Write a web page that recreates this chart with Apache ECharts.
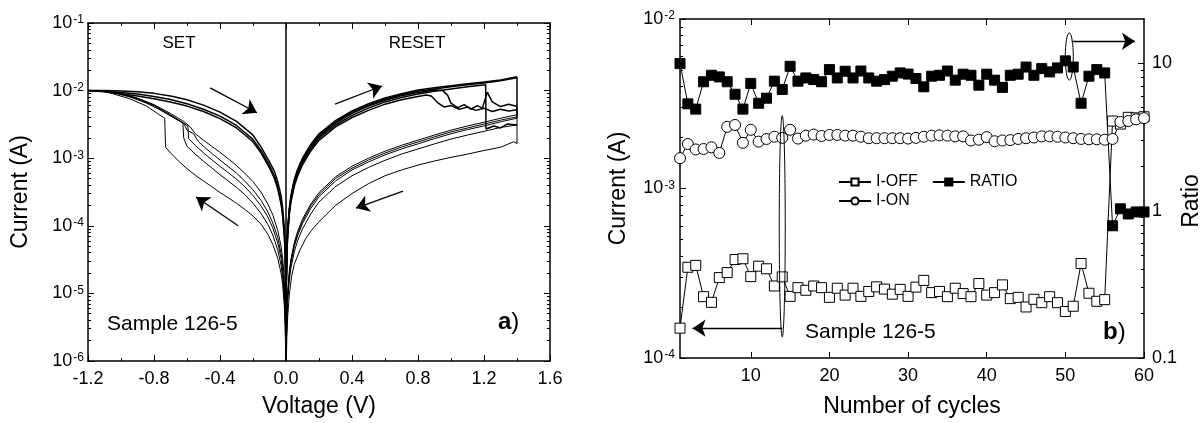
<!DOCTYPE html>
<html>
<head>
<meta charset="utf-8">
<title>Sample 126-5</title>
<script src="https://cdn.jsdelivr.net/npm/echarts@6/dist/echarts.min.js"></script>
<style>
  html, body { margin: 0; padding: 0; background: #fff; }
  #chart { width: 1201px; height: 423px; }
</style>
</head>
<body>
<div id="chart"></div>
<script>
// 字体
const FONT = '"Liberation Sans", Arial, Helvetica, sans-serif';

// ---------- 左图 (a) 刻度 ----------
const voltMin = -1.2;
const voltMax = 1.6;
const voltStep = 0.4;
const ivDecades = [1e-6, 1e-5, 1e-4, 1e-3, 1e-2, 1e-1];

// ---------- 右图 (b) 刻度 ----------
const cycleTicks = [10, 20, 30, 40, 50, 60];
const currDecades = [1e-4, 1e-3, 1e-2];
const ratioTicks = [0.1, 1, 10];
const ratioMax = 20;

// ---------- 左图数据：RESET 侧 (0 -> 1.4 V) ----------
const resetOn1 = [[0,1e-6],[0.0003,2.4e-6],[0.001,8e-6],[0.002,1.7e-5],[0.005,4.4e-5],[0.01,9e-5],[0.02,1.8e-4],[0.03,2.8e-4],[0.05,4.8e-4],[0.07,6.8e-4],[0.1,1.0e-3],[0.15,1.6e-3],[0.2,2.3e-3],[0.3,3.6e-3],[0.4,5.0e-3],[0.5,6.4e-3],[0.6,7.8e-3],[0.7,9.0e-3],[0.8,1.02e-2],[0.9,1.1e-2],[1.0,1.18e-2],[1.1,1.26e-2],[1.2,1.34e-2],[1.3,1.44e-2],[1.4,1.6e-2]];
const resetOn2 = [[0,1e-6],[0.0003,2.2e-6],[0.001,7.4e-6],[0.002,1.55e-5],[0.005,4e-5],[0.01,8.2e-5],[0.02,1.65e-4],[0.03,2.55e-4],[0.05,4.4e-4],[0.07,6.2e-4],[0.1,9.2e-4],[0.15,1.47e-3],[0.2,2.1e-3],[0.3,3.3e-3],[0.4,4.6e-3],[0.5,5.9e-3],[0.6,7.2e-3],[0.7,8.4e-3],[0.8,9.4e-3],[0.9,1.02e-2],[0.95,1.0e-2],[0.98,8.5e-3],[1.0,6.5e-3],[1.04,5.6e-3],[1.08,6.2e-3],[1.12,5.3e-3],[1.16,6.0e-3],[1.19,5.5e-3],[1.22,9.5e-3],[1.25,6.8e-3],[1.3,5.8e-3],[1.35,6.3e-3],[1.4,5.8e-3]];
const resetOn3 = [[0,1e-6],[0.0003,2e-6],[0.001,6.8e-6],[0.002,1.45e-5],[0.005,3.7e-5],[0.01,7.6e-5],[0.02,1.55e-4],[0.03,2.4e-4],[0.05,4.1e-4],[0.07,5.8e-4],[0.1,8.6e-4],[0.15,1.38e-3],[0.2,1.98e-3],[0.3,3.1e-3],[0.4,4.3e-3],[0.5,5.5e-3],[0.6,6.8e-3],[0.7,7.9e-3],[0.8,8.9e-3],[0.9,9.8e-3],[1.0,1.06e-2],[1.1,1.14e-2],[1.21,1.22e-2],[1.212,2.7e-3],[1.26,3.0e-3],[1.3,2.8e-3],[1.34,3.2e-3],[1.4,3.1e-3]];
const resetOn4 = [[0,1e-6],[0.0003,1.9e-6],[0.001,6.3e-6],[0.002,1.35e-5],[0.005,3.5e-5],[0.01,7.1e-5],[0.02,1.45e-4],[0.03,2.25e-4],[0.05,3.85e-4],[0.07,5.4e-4],[0.1,8.0e-4],[0.15,1.28e-3],[0.2,1.84e-3],[0.3,2.9e-3],[0.4,4.0e-3],[0.5,5.1e-3],[0.6,6.3e-3],[0.7,7.3e-3],[0.8,8.2e-3],[0.85,8.6e-3],[0.88,8.3e-3],[0.92,6.6e-3],[0.96,5.7e-3],[1.0,6.0e-3],[1.05,5.3e-3],[1.1,5.7e-3],[1.15,5.1e-3],[1.2,5.5e-3],[1.25,4.9e-3],[1.3,5.3e-3],[1.35,5.0e-3],[1.4,5.2e-3]];
const resetOn5 = [[0,1e-6],[0.0003,2.3e-6],[0.001,7.7e-6],[0.002,1.6e-5],[0.005,4.2e-5],[0.01,8.6e-5],[0.02,1.72e-4],[0.03,2.7e-4],[0.05,4.6e-4],[0.07,6.5e-4],[0.1,9.6e-4],[0.15,1.53e-3],[0.2,2.2e-3],[0.3,3.45e-3],[0.4,4.8e-3],[0.5,6.1e-3],[0.6,7.5e-3],[0.7,8.7e-3],[0.8,9.8e-3],[0.9,1.06e-2],[1.0,1.14e-2],[1.1,1.22e-2],[1.2,1.3e-2],[1.3,1.4e-2],[1.4,1.55e-2]];

// RESET 侧返回 (1.4 -> 0 V)
const resetOff1 = [[1.4,4.4e-3],[1.3,3.9e-3],[1.2,3.4e-3],[1.1,3.0e-3],[1.0,2.6e-3],[0.9,2.2e-3],[0.8,1.85e-3],[0.7,1.55e-3],[0.6,1.27e-3],[0.5,1.0e-3],[0.4,7.6e-4],[0.3,5.3e-4],[0.2,3.1e-4],[0.15,2.1e-4],[0.1,1.25e-4],[0.07,8.2e-5],[0.05,5.6e-5],[0.03,3.2e-5],[0.02,2.1e-5],[0.01,1.0e-5],[0.005,5e-6],[0.002,2e-6],[0.0008,1e-6]];
const resetOff2 = [[1.4,3.9e-3],[1.3,3.45e-3],[1.2,3.0e-3],[1.1,2.65e-3],[1.0,2.3e-3],[0.9,1.95e-3],[0.8,1.63e-3],[0.7,1.37e-3],[0.6,1.12e-3],[0.5,8.8e-4],[0.4,6.7e-4],[0.3,4.6e-4],[0.2,2.7e-4],[0.15,1.8e-4],[0.1,1.08e-4],[0.07,7.1e-5],[0.05,4.9e-5],[0.03,2.8e-5],[0.02,1.85e-5],[0.01,9e-6],[0.005,4.4e-6],[0.002,1.8e-6],[0.0008,1e-6]];
const resetOff3 = [[1.4,3.2e-3],[1.3,2.85e-3],[1.2,2.5e-3],[1.1,2.2e-3],[1.0,1.92e-3],[0.9,1.63e-3],[0.8,1.37e-3],[0.7,1.15e-3],[0.6,9.3e-4],[0.5,7.3e-4],[0.4,5.5e-4],[0.3,3.8e-4],[0.2,2.25e-4],[0.15,1.5e-4],[0.1,9e-5],[0.07,6e-5],[0.05,4.1e-5],[0.03,2.4e-5],[0.02,1.55e-5],[0.01,7.6e-6],[0.005,3.7e-6],[0.002,1.5e-6],[0.0008,1e-6]];
const resetOff4 = [[1.4,1.65e-3],[1.38,1.75e-3],[1.3,1.45e-3],[1.2,1.3e-3],[1.1,1.15e-3],[1.0,1.03e-3],[0.9,9.1e-4],[0.8,7.9e-4],[0.7,6.7e-4],[0.6,5.5e-4],[0.5,4.2e-4],[0.4,3.0e-4],[0.3,2.0e-4],[0.2,1.15e-4],[0.15,8.3e-5],[0.12,6.5e-5],[0.085,4.4e-5],[0.05,2.7e-5],[0.034,1.8e-5],[0.02,9.5e-6],[0.01,4.5e-6],[0.005,2.2e-6],[0.002,1e-6]];
const resetOff5 = [[1.4,4.1e-3],[1.3,3.65e-3],[1.2,3.2e-3],[1.1,2.8e-3],[1.0,2.45e-3],[0.9,2.07e-3],[0.8,1.74e-3],[0.7,1.46e-3],[0.6,1.19e-3],[0.5,9.4e-4],[0.4,7.1e-4],[0.3,5.0e-4],[0.2,2.9e-4],[0.15,1.97e-4],[0.1,1.17e-4],[0.07,7.7e-5],[0.05,5.3e-5],[0.03,3.0e-5],[0.02,2.0e-5],[0.01,9.5e-6],[0.005,4.7e-6],[0.002,1.9e-6],[0.0008,1e-6]];

// ---------- 左图数据：SET 侧 (0 -> -1.2 V) ----------
const setOff1 = [[0,1e-6],[-0.002,1.3e-6],[-0.005,3.3e-6],[-0.01,6.5e-6],[-0.02,1.35e-5],[-0.03,2.0e-5],[-0.05,3.3e-5],[-0.08,5.3e-5],[-0.11,7.5e-5],[-0.15,1.05e-4],[-0.2,1.4e-4],[-0.25,1.75e-4],[-0.3,2.15e-4],[-0.35,2.6e-4],[-0.4,3.1e-4],[-0.45,3.8e-4],[-0.5,4.6e-4],[-0.55,5.6e-4],[-0.6,7.0e-4],[-0.65,9.0e-4],[-0.7,1.2e-3],[-0.73,1.45e-3],[-0.735,3.9e-3],[-0.78,4.6e-3],[-0.85,6.0e-3],[-0.95,7.6e-3],[-1.05,9.0e-3],[-1.12,9.9e-3],[-1.2,1.0e-2]];
const setOff2 = [[0,1e-6],[-0.002,1.6e-6],[-0.005,4e-6],[-0.01,8e-6],[-0.02,1.7e-5],[-0.03,2.6e-5],[-0.05,4.4e-5],[-0.08,7.3e-5],[-0.11,1.05e-4],[-0.15,1.5e-4],[-0.2,2.15e-4],[-0.25,2.9e-4],[-0.3,3.7e-4],[-0.35,4.6e-4],[-0.4,5.7e-4],[-0.45,7.2e-4],[-0.5,9.0e-4],[-0.55,1.15e-3],[-0.6,1.5e-3],[-0.62,2.0e-3],[-0.625,3.3e-3],[-0.66,3.7e-3],[-0.72,4.5e-3],[-0.8,6.0e-3],[-0.9,7.6e-3],[-1.0,8.9e-3],[-1.1,9.8e-3],[-1.2,1.0e-2]];
const setOff3 = [[0,1e-6],[-0.002,2e-6],[-0.005,5e-6],[-0.01,1.0e-5],[-0.02,2.1e-5],[-0.03,3.3e-5],[-0.05,5.6e-5],[-0.08,9.3e-5],[-0.11,1.35e-4],[-0.15,1.95e-4],[-0.2,2.8e-4],[-0.25,3.8e-4],[-0.3,4.9e-4],[-0.35,6.1e-4],[-0.4,7.6e-4],[-0.45,9.5e-4],[-0.5,1.2e-3],[-0.55,1.55e-3],[-0.59,1.95e-3],[-0.595,3.0e-3],[-0.63,3.4e-3],[-0.7,4.4e-3],[-0.8,6.1e-3],[-0.9,7.7e-3],[-1.0,9.0e-3],[-1.1,9.9e-3],[-1.2,1.0e-2]];
const setOff4 = [[0,1e-6],[-0.002,2.4e-6],[-0.005,6e-6],[-0.01,1.2e-5],[-0.02,2.5e-5],[-0.03,3.9e-5],[-0.05,6.7e-5],[-0.08,1.1e-4],[-0.11,1.6e-4],[-0.15,2.35e-4],[-0.2,3.4e-4],[-0.25,4.6e-4],[-0.3,6.0e-4],[-0.35,7.5e-4],[-0.4,9.4e-4],[-0.45,1.18e-3],[-0.5,1.5e-3],[-0.53,1.75e-3],[-0.56,2.3e-3],[-0.6,2.6e-3],[-0.62,3.3e-3],[-0.68,4.0e-3],[-0.75,5.0e-3],[-0.85,6.6e-3],[-0.95,8.1e-3],[-1.05,9.3e-3],[-1.15,9.95e-3],[-1.2,1.0e-2]];
const setOff5 = [[0,1e-6],[-0.001,1.6e-6],[-0.003,4.8e-6],[-0.006,9.5e-6],[-0.01,1.6e-5],[-0.02,3.3e-5],[-0.03,5e-5],[-0.05,8.5e-5],[-0.08,1.45e-4],[-0.11,2.1e-4],[-0.15,3.1e-4],[-0.2,4.5e-4],[-0.25,6.0e-4],[-0.3,7.8e-4],[-0.35,9.8e-4],[-0.4,1.22e-3],[-0.45,1.5e-3],[-0.5,1.85e-3],[-0.55,2.3e-3],[-0.58,2.9e-3],[-0.62,3.5e-3],[-0.7,4.6e-3],[-0.8,6.2e-3],[-0.9,7.7e-3],[-1.0,9.0e-3],[-1.1,9.9e-3],[-1.2,1.0e-2]];

// SET 侧返回 (-1.2 -> 0 V)
const setOn1 = [[-1.2,1.0e-2],[-1.1,1.0e-2],[-1.0,9.9e-3],[-0.9,9.6e-3],[-0.8,9.1e-3],[-0.7,8.3e-3],[-0.6,7.3e-3],[-0.5,6.1e-3],[-0.4,4.8e-3],[-0.3,3.5e-3],[-0.2,2.2e-3],[-0.15,1.45e-3],[-0.1,8.8e-4],[-0.07,6.4e-4],[-0.05,4.5e-4],[-0.03,2.8e-4],[-0.02,1.8e-4],[-0.01,9e-5],[-0.005,4.4e-5],[-0.002,1.7e-5],[-0.001,8e-6],[-0.0003,2.4e-6],[0,1e-6]];
const setOn2 = [[-1.2,1.0e-2],[-1.1,9.8e-3],[-1.0,9.4e-3],[-0.9,8.9e-3],[-0.8,8.2e-3],[-0.7,7.4e-3],[-0.6,6.4e-3],[-0.5,5.3e-3],[-0.4,4.2e-3],[-0.3,3.05e-3],[-0.2,1.9e-3],[-0.15,1.28e-3],[-0.1,7.8e-4],[-0.07,5.5e-4],[-0.05,3.8e-4],[-0.03,2.3e-4],[-0.02,1.5e-4],[-0.01,7.5e-5],[-0.005,3.7e-5],[-0.002,1.45e-5],[-0.001,7e-6],[-0.0003,2.1e-6],[0,1e-6]];
const setOn3 = [[-1.2,1.0e-2],[-1.1,9.6e-3],[-1.0,9.0e-3],[-0.9,8.3e-3],[-0.8,7.6e-3],[-0.7,6.8e-3],[-0.6,5.9e-3],[-0.5,4.9e-3],[-0.4,3.85e-3],[-0.3,2.8e-3],[-0.2,1.75e-3],[-0.15,1.18e-3],[-0.1,7.2e-4],[-0.07,5.0e-4],[-0.05,3.5e-4],[-0.03,2.1e-4],[-0.02,1.38e-4],[-0.01,6.9e-5],[-0.005,3.4e-5],[-0.002,1.35e-5],[-0.001,6.5e-6],[-0.0003,2e-6],[0,1e-6]];

// ---------- 右图数据：每个循环的 I-ON、I-OFF 与比值 ----------
const ionData = [1.51e-3,1.83e-3,1.70e-3,1.71e-3,1.75e-3,1.62e-3,2.31e-3,2.37e-3,1.86e-3,2.22e-3,
  1.89e-3,1.96e-3,2.02e-3,1.99e-3,2.22e-3,1.97e-3,2.05e-3,2.08e-3,2.04e-3,2.07e-3,
  2.07e-3,2.05e-3,2.05e-3,2.02e-3,1.98e-3,1.98e-3,1.98e-3,1.98e-3,1.98e-3,1.97e-3,
  1.99e-3,2.02e-3,2.05e-3,2.06e-3,2.05e-3,2.03e-3,2.03e-3,1.92e-3,1.94e-3,2.01e-3,
  1.90e-3,1.92e-3,1.93e-3,1.96e-3,1.98e-3,2.00e-3,2.03e-3,2.03e-3,2.02e-3,2.00e-3,
  1.98e-3,1.96e-3,1.95e-3,1.95e-3,1.94e-3,1.96e-3,2.47e-3,2.50e-3,2.56e-3,2.60e-3];
const ioffData = [1.50e-4,3.43e-4,3.52e-4,2.30e-4,2.13e-4,2.98e-4,3.19e-4,3.81e-4,3.85e-4,3.02e-4,
  3.48e-4,3.36e-4,2.66e-4,3.01e-4,2.31e-4,2.60e-4,2.51e-4,2.66e-4,2.60e-4,2.28e-4,
  2.58e-4,2.35e-4,2.58e-4,2.31e-4,2.47e-4,2.63e-4,2.55e-4,2.38e-4,2.54e-4,2.31e-4,
  2.62e-4,2.87e-4,2.43e-4,2.47e-4,2.30e-4,2.58e-4,2.40e-4,2.30e-4,2.75e-4,2.35e-4,
  2.43e-4,2.70e-4,2.24e-4,2.28e-4,2.00e-4,2.22e-4,2.12e-4,2.30e-4,2.12e-4,1.88e-4,
  2.02e-4,3.61e-4,2.41e-4,2.16e-4,2.21e-4,2.50e-3,2.40e-3,2.63e-3,2.61e-3,2.65e-3];
const ratioData = [9.96,5.31,4.89,7.50,8.30,8.09,7.50,6.17,4.89,7.31,
  5.36,5.80,7.57,6.65,9.55,7.57,7.96,7.76,7.50,9.07,
  7.96,8.84,7.96,8.87,7.96,7.57,7.76,8.18,8.61,8.46,
  7.89,6.93,8.18,8.30,8.87,7.69,8.44,8.30,7.11,8.44,
  7.69,6.87,8.30,8.44,9.44,8.30,9.21,8.75,9.31,10.4,
  9.44,5.36,8.18,9.07,8.61,0.79,1.03,0.95,0.98,0.98];

// ---------- 注释：箭头 (数据坐标) ----------
const ivArrows = [
  [[-0.46, 1.1e-2], [-0.176, 4.7e-3]],
  [[-0.29, 1.0e-4], [-0.545, 2.67e-4]],
  [[0.297, 6.3e-3], [0.582, 1.17e-2]],
  [[0.709, 3.27e-4], [0.424, 1.83e-4]]
];
const offArrow = [[14, 1.5e-4], [2.6, 1.5e-4]];
const ratioArrow = [[50.8, 14.1], [58.85, 14.1]];
// 椭圆：[x, 上沿, 下沿, 水平半径px]
const offEllipse = [14, 2.69e-3, 1.33e-4, 3];
const ratioEllipse = [50.5, 16.1, 7.69, 4];

/**
 * 对数轴次刻度 (2..9 倍)，返回其以 10 为底的指数
 */
function minorExp(decades, top) {
  const out = [];
  decades.forEach(d => {
    for (let k = 2; k <= 9; k++) {
      if (k * d < top * 0.999) out.push(Math.log10(k * d));
    }
  });
  return out;
}

function powLabel(v) {
  const e = Math.round(Math.log10(v));
  return '10{sup|' + e + '}';
}

const black = '#000';
const lineBox = { show: true, onZero: false, lineStyle: { color: black, width: 1.5 } };

/**
 * 主对数轴：十进制主刻度，可带标签
 */
function logAxis(grid, pos, min, max, labelOpt, extra) {
  const ax = {
    gridIndex: grid, type: 'log', logBase: 10, position: pos, min: min, max: max,
    axisLine: lineBox,
    axisTick: { show: true, inside: true, length: 6, lineStyle: { color: black, width: 1 } },
    axisLabel: { show: false },
    splitLine: { show: false },
    minorTick: { show: false }
  };
  if (labelOpt) {
    ax.axisLabel = Object.assign({
      show: true, color: black, fontFamily: FONT, fontSize: 18, margin: 5
    }, labelOpt);
  }
  return Object.assign(ax, extra || {});
}

/**
 * 次刻度轴：在指数空间上的线性轴，只画短刻度
 */
function minorAxis(grid, pos, decades, top) {
  return {
    gridIndex: grid, type: 'value', position: pos,
    min: Math.log10(decades[0]), max: Math.log10(top),
    axisLine: { show: false, onZero: false },
    axisTick: { show: true, inside: true, length: 3, customValues: minorExp(decades, top), lineStyle: { color: black, width: 1 } },
    axisLabel: { show: false },
    splitLine: { show: false }
  };
}

const chart = echarts.init(document.getElementById('chart'));

const supRich = { sup: { fontSize: 12, fontFamily: FONT, color: black, verticalAlign: 'top', padding: [0, 0, 6, 1] } };

const lastOf = arr => arr[arr.length - 1];

// 左图：高阻/低阻分支分别绘制，低阻分支线略粗
const ivOn = [resetOn1, resetOn5, resetOn2, resetOn3, resetOn4, setOn1, setOn2, setOn3];
const ivOff = [
  [lastOf(resetOn1)].concat(resetOff1),
  [lastOf(resetOn5)].concat(resetOff5),
  [lastOf(resetOn2)].concat(resetOff2),
  [lastOf(resetOn3)].concat(resetOff3),
  [lastOf(resetOn4)].concat(resetOff4),
  setOff1, setOff2, setOff3, setOff4, setOff5
];

const ivLine = (pts, w) => ({
  type: 'line', xAxisIndex: 0, yAxisIndex: 0, data: pts,
  symbol: 'none', showSymbol: false, silent: true,
  lineStyle: { color: black, width: w }
});

const series = ivOff.map(p => ivLine(p, 1)).concat(ivOn.map(p => ivLine(p, 1.5)));

const arrowLine = {
  silent: true, symbol: ['none', 'arrow'], symbolSize: 13, label: { show: false },
  lineStyle: { color: black, width: 1.3, type: 'solid' }
};

// 0 V 竖线
series[0].markLine = {
  silent: true, symbol: ['none', 'none'], label: { show: false },
  lineStyle: { color: black, width: 1.5, type: 'solid' },
  data: [{ xAxis: 0 }]
};
// 扫描方向箭头
series[1].markLine = Object.assign({}, arrowLine, {
  data: ivArrows.map(a => [{ coord: a[0] }, { coord: a[1] }])
});

const cycles = ionData.map((v, i) => i + 1);
const pairs = vals => vals.map((v, i) => [cycles[i], v]);

series.push({
  name: 'I-OFF', type: 'line', xAxisIndex: 2, yAxisIndex: 4, data: pairs(ioffData),
  symbol: 'rect', symbolSize: 10, clip: false,
  itemStyle: { color: '#fff', borderColor: black, borderWidth: 1 },
  lineStyle: { color: black, width: 1 },
  markLine: Object.assign({}, arrowLine, {
    data: [[{ coord: offArrow[0] }, { coord: offArrow[1] }]]
  })
});
series.push({
  name: 'I-ON', type: 'line', xAxisIndex: 2, yAxisIndex: 4, data: pairs(ionData),
  symbol: 'circle', symbolSize: 11, clip: false,
  itemStyle: { color: '#fff', borderColor: black, borderWidth: 1 },
  lineStyle: { color: black, width: 1 }
});
series.push({
  name: 'RATIO', type: 'line', xAxisIndex: 2, yAxisIndex: 6, data: pairs(ratioData),
  symbol: 'rect', symbolSize: 10, clip: false,
  itemStyle: { color: black, borderColor: black, borderWidth: 1 },
  lineStyle: { color: black, width: 1 },
  markLine: Object.assign({}, arrowLine, {
    data: [[{ coord: ratioArrow[0] }, { coord: ratioArrow[1] }]]
  })
});

const voltLabel = v => (Math.abs(v) < 1e-9 ? '0.0' : v.toFixed(1));
const nameStyle = { fontSize: 23, color: black, fontFamily: FONT };

const option = {
  animation: false,
  backgroundColor: '#fff',
  textStyle: { fontFamily: FONT },
  grid: [
    { left: 88, top: 23, width: 462, height: 338 },
    { left: 680, top: 19, width: 464, height: 342 }
  ],
  xAxis: [
    {
      gridIndex: 0, type: 'value', position: 'bottom', min: voltMin, max: voltMax, interval: voltStep,
      axisLine: lineBox,
      axisTick: { inside: true, length: 6, lineStyle: { color: black } },
      minorTick: { show: true, splitNumber: 2, length: 3, lineStyle: { color: black } },
      axisLabel: { formatter: voltLabel, color: black, fontFamily: FONT, fontSize: 18, margin: 9 },
      splitLine: { show: false },
      name: 'Voltage (V)', nameLocation: 'middle', nameGap: 34, nameTextStyle: nameStyle
    },
    {
      gridIndex: 0, type: 'value', position: 'top', min: voltMin, max: voltMax, interval: voltStep,
      axisLine: lineBox,
      axisTick: { inside: true, length: 6, lineStyle: { color: black } },
      minorTick: { show: true, splitNumber: 2, length: 3, lineStyle: { color: black } },
      axisLabel: { show: false }, splitLine: { show: false }
    },
    {
      gridIndex: 1, type: 'value', position: 'bottom', min: 1, max: 60,
      axisLine: lineBox,
      axisTick: { inside: true, length: 6, customValues: cycleTicks, lineStyle: { color: black } },
      axisLabel: { customValues: cycleTicks, color: black, fontFamily: FONT, fontSize: 18, margin: 9 },
      splitLine: { show: false },
      name: 'Number of cycles', nameLocation: 'middle', nameGap: 37, nameTextStyle: nameStyle
    },
    {
      gridIndex: 1, type: 'value', position: 'top', min: 1, max: 60,
      axisLine: lineBox,
      axisTick: { inside: true, length: 6, customValues: cycleTicks.slice(0, 5), lineStyle: { color: black } },
      axisLabel: { show: false }, splitLine: { show: false }
    }
  ],
  yAxis: [
    logAxis(0, 'left', 1e-6, 1e-1, { formatter: powLabel, rich: supRich, margin: 4 },
      { name: 'Current (A)', nameLocation: 'middle', nameGap: 56, nameTextStyle: nameStyle }),
    minorAxis(0, 'left', ivDecades, 1e-1),
    logAxis(0, 'right', 1e-6, 1e-1, null),
    minorAxis(0, 'right', ivDecades, 1e-1),
    logAxis(1, 'left', 1e-4, 1e-2, { formatter: powLabel, rich: supRich, margin: 5 },
      { name: 'Current (A)', nameLocation: 'middle', nameGap: 50, nameTextStyle: nameStyle }),
    minorAxis(1, 'left', currDecades, 1e-2),
    logAxis(1, 'right', 0.1, ratioMax, { formatter: v => String(+v.toPrecision(3)), margin: 8, showMaxLabel: false }),
    minorAxis(1, 'right', ratioTicks, ratioMax)
  ],
  legend: [
    {
      data: ['I-OFF', 'RATIO'], left: 833, top: 169, orient: 'horizontal',
      itemWidth: 32, itemHeight: 9, itemGap: 14,
      textStyle: { fontSize: 16, color: black, fontFamily: FONT }
    },
    {
      data: ['I-ON'], left: 833, top: 188, orient: 'horizontal',
      itemWidth: 32, itemHeight: 9,
      textStyle: { fontSize: 16, color: black, fontFamily: FONT }
    }
  ],
  series: series
};

chart.setOption(option);

// 文字注释与椭圆 (椭圆按数据坐标换算到像素)
function ellipseGraphic(e, xAxisIndex, yAxisIndex) {
  const cx = chart.convertToPixel({ xAxisIndex: xAxisIndex }, e[0]);
  const yTop = chart.convertToPixel({ yAxisIndex: yAxisIndex }, e[1]);
  const yBot = chart.convertToPixel({ yAxisIndex: yAxisIndex }, e[2]);
  return {
    type: 'ellipse', silent: true, z: 10,
    shape: { cx: cx, cy: (yTop + yBot) / 2, rx: e[3], ry: Math.abs(yBot - yTop) / 2 },
    style: { fill: 'none', stroke: black, lineWidth: 1 }
  };
}

function label(text, x, y, size, align, extra) {
  return {
    type: 'text', x: x, y: y, silent: true, z: 10,
    style: Object.assign({
      text: text, fill: black, font: size + 'px ' + FONT,
      align: align || 'left', verticalAlign: 'middle'
    }, extra || {})
  };
}

const boldRich = { rich: { b: { fontWeight: 'bold', fontSize: 24, fontFamily: FONT, fill: black } } };

chart.setOption({
  graphic: [
    ellipseGraphic(offEllipse, 2, 4),
    ellipseGraphic(ratioEllipse, 2, 6),
    label('SET', 179, 43, 17, 'center'),
    label('RESET', 417, 43, 17, 'center'),
    label('Sample 126-5', 107, 324, 21),
    label('{b|a})', 498, 322, 24, 'left', boldRich),
    label('Sample 126-5', 805, 332, 21),
    label('{b|b})', 1103, 332, 24, 'left', boldRich),
    Object.assign(label('Ratio', 1192, 201, 23, 'center'), { rotation: Math.PI / 2 })
  ]
});
</script>
</body>
</html>
